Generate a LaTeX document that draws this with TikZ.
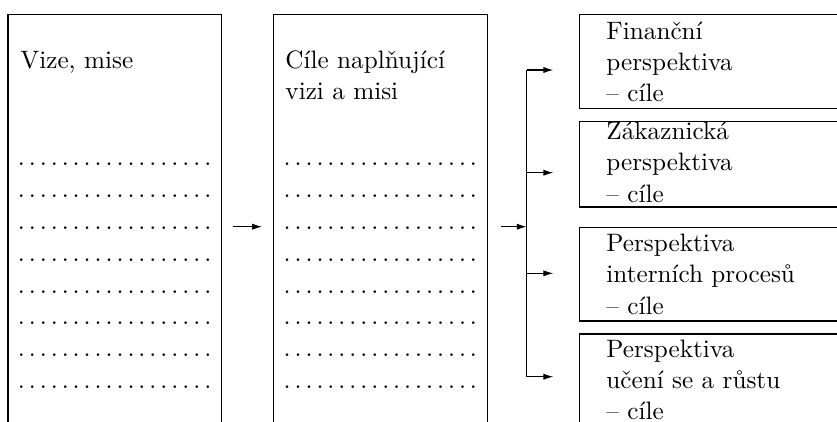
\documentclass[tikz,border=0pt]{standalone}
\usepackage{fontspec}
\usetikzlibrary{arrows.meta,fit}

% a row of evenly spaced dots used as a placeholder line
\newcommand\dotrow{\hbox to 85.9pt{\leaders\hbox to 4.766pt{\hss.\hss}\hfill}}

\begin{document}
\begin{tikzpicture}[x=0.4348pt,y=-0.4348pt,
  panel/.style={draw, line width=0.45pt, inner sep=0pt},
  txt/.style={anchor=base west, inner sep=0pt, font=\fontsize{10.95}{13.6}\selectfont},
  link/.style={line width=0.45pt},
  arr/.style={line width=0.45pt, -{Latex[length=4.3pt,width=2.7pt]}}]

\clip (0,0) rectangle (837,421);

% main columns
\node[panel, fit={(8,14.5) (221.7,460)}] (vize) {};
\node[panel, fit={(273.5,14.5) (487.7,460)}] (cile) {};

% perspective boxes (run past the right edge)
\node[panel, fit={(579.3,14.7) (900,108.3)}] (fin) {};
\node[panel, fit={(579.3,121.7) (900,207)}] (zak) {};
\node[panel, fit={(579.3,227.3) (900,321)}] (int) {};
\node[panel, fit={(579.3,334) (900,460)}] (uce) {};

% column texts
\node[txt] (t1) at (20,68) {Vize, mise};
\node[txt] (t2a) at (285,68) {Cíle naplňující};
\node[txt] (t2b) at (285,99.3) {vizi a misi};

\foreach \i in {0,...,7}{
  \node[txt] (d1-\i) at (15.5,165.8+31.8*\i) {\dotrow};
  \node[txt] (d2-\i) at (281.2,165.8+31.8*\i) {\dotrow};
}

% perspective texts
\node[txt] (f1) at (606,39) {Finanční};
\node[txt] (f2) at (606,70.3) {perspektiva};
\node[txt] (f3) at (606,101.6) {– cíle};
\node[txt] (z1) at (606,139.4) {Zákaznická};
\node[txt] (z2) at (606,170.7) {perspektiva};
\node[txt] (z3) at (606,202) {– cíle};
\node[txt] (i1) at (606,251.4) {Perspektiva};
\node[txt] (i2) at (606,282.7) {interních procesů};
\node[txt] (i3) at (606,314) {– cíle};
\node[txt] (u1) at (606,357) {Perspektiva};
\node[txt] (u2) at (606,388.3) {učení se a růstu};
\node[txt] (u3) at (606,419.6) {– cíle};

% connectors
\coordinate (a1s) at (233,226.7);
\coordinate (a1e) at (262,226.7);
\coordinate (a2s) at (500.7,226.7);
\coordinate (j) at (526.7,226.7);
\coordinate (k1) at (526.7,70);
\coordinate (k2) at (526.7,172.7);
\coordinate (k3) at (526.7,273.3);
\coordinate (k4) at (526.7,376.7);
\coordinate (p1) at (553.3,70);
\coordinate (p2) at (553.3,172.7);
\coordinate (p3) at (553.3,273.3);
\coordinate (p4) at (553.3,376.7);

\draw[arr] (a1s) -- (a1e);
\draw[arr] (a2s) -- (j);
\draw[link] (k1) -- (k4);
\draw[arr] (k1) -- (p1);
\draw[arr] (k2) -- (p2);
\draw[arr] (k3) -- (p3);
\draw[arr] (k4) -- (p4);
\end{tikzpicture}
\end{document}
